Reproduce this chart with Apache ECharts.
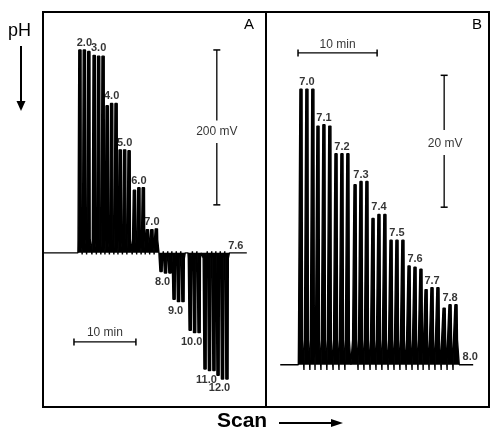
<!DOCTYPE html>
<html>
<head>
<meta charset="utf-8">
<script src="https://cdn.jsdelivr.net/npm/echarts@6/dist/echarts.min.js"></script>
<style>
html, body { margin: 0; padding: 0; background: #fff; }
#chart { width: 493px; height: 429px; }
</style>
</head>
<body>
<div id="chart"></div>
<script>
// panel A: pH 2.0 - 12.0, three injections per pH (signal in mV, time in min)
var phA = ["2.0", "3.0", "4.0", "5.0", "6.0", "7.0", "8.0", "9.0", "10.0", "11.0", "12.0"];
var startA = [5.6, 7.9, 10.0, 12.1, 14.4, 16.5, 18.7, 20.8, 23.4, 25.8, 27.9];
var peaksA = [
  [262, 262, 260],
  [255, 254, 254],
  [190, 193, 193],
  [133, 133, 132],
  [81, 84, 84],
  [30, 30, 31],
  [-24, -26, -26],
  [-60, -63, -63],
  [-100, -103, -103],
  [-150, -152, -152],
  [-158, -163, -163]
];
var spanA = 0.72;
var traceA = [0, 32.9];
var endPhA = "7.6";

// panel B: pH 7.0 - 7.8
var phB = ["7.0", "7.1", "7.2", "7.3", "7.4", "7.5", "7.6", "7.7", "7.8"];
var startB = [4.05, 6.2, 8.48, 10.89, 13.16, 15.44, 17.72, 19.87, 22.15];
var peaksB = [
  [41.8, 41.8, 41.8],
  [36.2, 36.4, 36.2],
  [32.0, 32.0, 32.0],
  [27.3, 27.8, 27.8],
  [22.2, 22.8, 22.8],
  [18.9, 18.9, 18.9],
  [15.0, 14.8, 14.5],
  [11.4, 11.7, 11.7],
  [8.6, 9.1, 9.1]
];
var spanB = 0.75;
var traceB = [1.8, 26.2];
var endPhB = "8.0";

var FONT = "Liberation Sans";

// recorder trace: each injection is a narrow peak on a small shoulder,
// with a short dip the other way between neighbouring injections
function buildTrace(starts, peaks, span, shape, from, to) {
  var pts = [[from, 0]];
  var prev = null;
  for (var g = 0; g < starts.length; g++) {
    for (var k = 0; k < peaks[g].length; k++) {
      var h = peaks[g][k];
      var tp = starts[g] + (k + 0.5) * span;
      var sg = h > 0 ? 1 : -1;
      var sh = sg * Math.min(h > 0 ? shape.shPos : shape.shNeg, Math.abs(h) * 0.6);
      if (prev === null) {
        pts.push([tp - 0.45 * span, 0]);
      } else if (tp - prev > span * 1.2) {
        pts.push([prev + 0.5 * span, 0]);
        pts.push([tp - 0.5 * span, 0]);
      } else {
        pts.push([tp - 0.5 * span, -sg * shape.dip]);
      }
      pts.push([tp - 0.42 * span, sh]);
      pts.push([tp - shape.base * span, sh]);
      pts.push([tp - shape.top * span, h]);
      pts.push([tp + shape.top * span, h]);
      pts.push([tp + shape.base * span, sh]);
      pts.push([tp + 0.42 * span, sh]);
      prev = tp;
    }
  }
  pts.push([prev + 0.55 * span, 0]);
  pts.push([to, 0]);
  return pts;
}

function groupLabels(starts, peaks, names, span, endName, to, endLabel) {
  var out = names.map(function (name, g) {
    var ext = peaks[g][0];
    peaks[g].forEach(function (v) { if (Math.abs(v) > Math.abs(ext)) ext = v; });
    return {
      value: [starts[g] + 1.5 * span, ext],
      name: name,
      label: ext < 0
        ? { position: "bottom", distance: 3, offset: [-3, 0] }
        : { position: "top", distance: 1 }
    };
  });
  out.push({ value: [to, 0], name: endName, label: endLabel });
  return out;
}

function traceSeries(i, data) {
  return {
    type: "line", xAxisIndex: i, yAxisIndex: i, silent: true,
    symbol: "none", sampling: null, smooth: false,
    lineStyle: { color: "#000", width: 1.4 },
    areaStyle: { color: "#000", opacity: 1, origin: "auto" },
    data: data
  };
}

function labelSeries(i, data, size, weight) {
  return {
    type: "scatter", xAxisIndex: i, yAxisIndex: i, silent: true,
    symbolSize: 1, itemStyle: { color: "rgba(0,0,0,0)" },
    label: {
      show: true, formatter: "{b}", color: "#000",
      fontFamily: FONT, fontSize: size, fontWeight: weight
    },
    data: data
  };
}

// scale bar piece, caps only where asked
function barSeries(i, pts, caps, capSize) {
  return {
    type: "line", xAxisIndex: i, yAxisIndex: i, silent: true,
    lineStyle: { color: "#000", width: 1.3 },
    itemStyle: { color: "#000" },
    symbol: "rect", symbolSize: capSize,
    data: pts.map(function (p, k) {
      return caps[k] ? { value: p } : { value: p, symbol: "none" };
    })
  };
}

var chart = echarts.init(document.getElementById("chart"));

var option = {
  animation: false,
  backgroundColor: "#fff",
  grid: [
    { left: 43, top: 12, width: 223, height: 395, show: true, borderColor: "#000", borderWidth: 2, backgroundColor: "transparent" },
    { left: 266, top: 12, width: 223, height: 395, show: true, borderColor: "#000", borderWidth: 2, backgroundColor: "transparent" }
  ],
  xAxis: [
    { type: "value", gridIndex: 0, min: 0, max: 36, show: false },
    { type: "value", gridIndex: 1, min: 0, max: 28.2, show: false }
  ],
  yAxis: [
    { type: "value", gridIndex: 0, min: -199, max: 311, show: false },
    { type: "value", gridIndex: 1, min: -6.4, max: 53.5, show: false }
  ],
  series: [
    traceSeries(0, buildTrace(startA, peaksA, spanA,
      { shPos: 17, shNeg: 7, dip: 2, base: 0.3, top: 0.25 }, traceA[0], traceA[1])),
    traceSeries(1, buildTrace(startB, peaksB, spanB,
      { shPos: 3.8, shNeg: 3.8, dip: 0.8, base: 0.25, top: 0.18 }, traceB[0], traceB[1])),
    labelSeries(0, groupLabels(startA, peaksA, phA, spanA, endPhA, traceA[1],
      { position: "top", distance: 1, offset: [-11, 0] }), 11, 700),
    labelSeries(1, groupLabels(startB, peaksB, phB, spanB, endPhB, traceB[1],
      { position: "top", distance: 2, offset: [-3, 0] }), 11, 700),
    // scale bars
    barSeries(0, [[5.0, -115], [15.0, -115]], [1, 1], [1.5, 7]),
    barSeries(0, [[28.06, 262], [28.06, 171]], [1, 0], [7, 1.5]),
    barSeries(0, [[28.06, 142], [28.06, 62]], [0, 1], [7, 1.5]),
    barSeries(1, [[4.05, 47.3], [14.05, 47.3]], [1, 1], [1.5, 7]),
    barSeries(1, [[22.53, 43.9], [22.53, 35.6]], [1, 0], [7, 1.5]),
    barSeries(1, [[22.53, 31.8], [22.53, 23.9]], [0, 1], [7, 1.5]),
    labelSeries(0, [
      { value: [10.0, -103], name: "10 min", label: { position: "inside" } },
      { value: [28.06, 157], name: "200 mV", label: { position: "inside" } }
    ], 12, "normal"),
    labelSeries(1, [
      { value: [9.05, 48.6], name: "10 min", label: { position: "inside" } },
      { value: [22.66, 33.6], name: "20 mV", label: { position: "inside" } }
    ], 12, "normal")
  ],
  graphic: [
    { type: "text", left: 8, top: 22, style: { text: "pH", font: "18px " + FONT, fill: "#000" } },
    { type: "line", shape: { x1: 21, y1: 46, x2: 21, y2: 104 }, style: { stroke: "#000", lineWidth: 2 } },
    { type: "polygon", shape: { points: [[16.5, 101], [25.5, 101], [21, 111]] }, style: { fill: "#000" } },
    { type: "text", left: 244, top: 17, style: { text: "A", font: "15px " + FONT, fill: "#000" } },
    { type: "text", left: 472, top: 17, style: { text: "B", font: "15px " + FONT, fill: "#000" } },
    { type: "text", left: 217, top: 411, style: { text: "Scan", font: "bold 21px " + FONT, fill: "#000" } },
    { type: "line", shape: { x1: 279, y1: 423, x2: 334, y2: 423 }, style: { stroke: "#000", lineWidth: 2 } },
    { type: "polygon", shape: { points: [[331, 419], [331, 427], [343, 423]] }, style: { fill: "#000" } }
  ]
};

chart.setOption(option);
</script>
</body>
</html>
